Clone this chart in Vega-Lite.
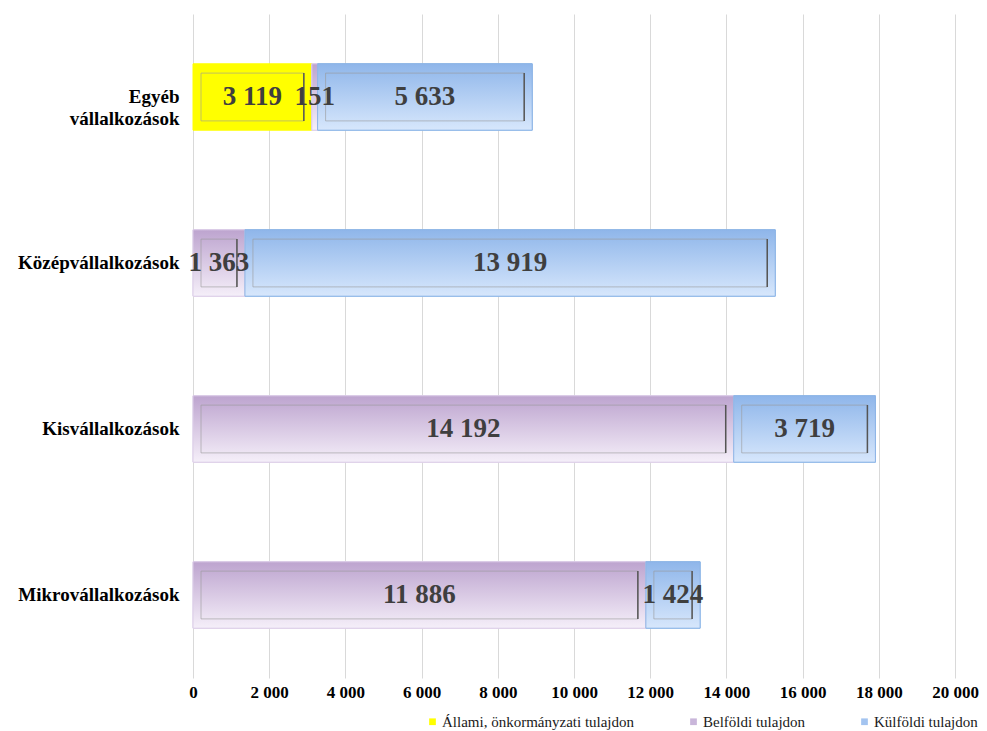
{
  "$schema": "https://vega.github.io/schema/vega-lite/v6.json",
  "width": 762,
  "height": 664,
  "autosize": {"type": "none"},
  "padding": {"left": 193, "top": 14, "right": 32, "bottom": 53},
  "background": "white",
  "config": {
    "view": {"stroke": null},
    "locale": {"number": {"decimal": ",", "thousands": " ", "grouping": [3], "currency": ["", ""]}}
  },
  "data": {
    "values": [
      {"cat": "Egyéb vállalkozások", "series": "Állami, önkormányzati tulajdon", "order": 1, "value": 3119},
      {"cat": "Egyéb vállalkozások", "series": "Belföldi tulajdon", "order": 2, "value": 151},
      {"cat": "Egyéb vállalkozások", "series": "Külföldi tulajdon", "order": 3, "value": 5633},
      {"cat": "Középvállalkozások", "series": "Belföldi tulajdon", "order": 2, "value": 1363},
      {"cat": "Középvállalkozások", "series": "Külföldi tulajdon", "order": 3, "value": 13919},
      {"cat": "Kisvállalkozások", "series": "Belföldi tulajdon", "order": 2, "value": 14192},
      {"cat": "Kisvállalkozások", "series": "Külföldi tulajdon", "order": 3, "value": 3719},
      {"cat": "Mikrovállalkozások", "series": "Belföldi tulajdon", "order": 2, "value": 11886},
      {"cat": "Mikrovállalkozások", "series": "Külföldi tulajdon", "order": 3, "value": 1424}
    ]
  },
  "transform": [
    {"stack": "value", "groupby": ["cat"], "sort": [{"field": "order"}], "as": ["v0", "v1"]},
    {"calculate": "(datum.v0 + datum.v1) / 2", "as": "mid"}
  ],
  "encoding": {
    "y": {
      "field": "cat",
      "type": "nominal",
      "sort": ["Egyéb vállalkozások", "Középvállalkozások", "Kisvállalkozások", "Mikrovállalkozások"],
      "scale": {"paddingInner": 0.6, "paddingOuter": 0.3},
      "axis": {
        "title": null,
        "domain": false,
        "ticks": false,
        "labelPadding": 14,
        "labelFont": "Liberation Serif",
        "labelFontWeight": "bold",
        "labelFontSize": 19,
        "labelLimit": 200,
        "labelColor": "#000000",
        "labelLineHeight": 22,
        "labelExpr": "datum.label == 'Egyéb vállalkozások' ? ['Egyéb', 'vállalkozások'] : datum.label"
      }
    }
  },
  "layer": [
    {
      "mark": {"type": "bar", "height": {"band": 1}, "strokeWidth": 1},
      "encoding": {
        "x": {
          "field": "v0",
          "type": "quantitative",
          "scale": {"domain": [0, 20000], "nice": false},
          "axis": {
            "title": null,
            "values": [0, 2000, 4000, 6000, 8000, 10000, 12000, 14000, 16000, 18000, 20000],
            "format": ",d",
            "grid": true,
            "gridColor": "#D9D9D9",
            "gridWidth": 1,
            "domain": false,
            "ticks": false,
            "labelPadding": 6,
            "labelFont": "Liberation Serif",
            "labelFontWeight": "bold",
            "labelFontSize": 17,
            "labelColor": "#000000",
            "labelFlush": false
          }
        },
        "x2": {"field": "v1"},
        "color": {
          "field": "series",
          "type": "nominal",
          "scale": {
            "domain": ["Állami, önkormányzati tulajdon", "Belföldi tulajdon", "Külföldi tulajdon"],
            "range": ["#FFFF00", "#C9B6DA", "#A3C4F0"]
          },
          "legend": {
            "title": null,
            "orient": "none",
            "direction": "horizontal",
            "legendX": 232,
            "legendY": 700,
            "symbolType": "square",
            "symbolSize": 45,
            "symbolStrokeWidth": 0,
            "labelFont": "Liberation Serif",
            "labelFontSize": 15,
            "labelLimit": 300,
            "labelColor": "#1a1a1a",
            "labelOffset": 2,
            "columnPadding": 51
          }
        },
        "stroke": {
          "field": "series",
          "type": "nominal",
          "scale": {
            "domain": ["Állami, önkormányzati tulajdon", "Belföldi tulajdon", "Külföldi tulajdon"],
            "range": ["#FFFF00", "#DCCEE8", "#8DB5E6"]
          },
          "legend": null
        }
      }
    },
    {
      "transform": [{"filter": "datum.series == 'Belföldi tulajdon'"}],
      "mark": {
        "type": "bar",
        "height": {"band": 1},
        "stroke": "#DCCEE8",
        "strokeWidth": 1,
        "color": {
          "gradient": "linear", "x1": 0, "y1": 0, "x2": 0, "y2": 1,
          "stops": [{"offset": 0, "color": "#BDA4CF"}, {"offset": 1, "color": "#F5EFF9"}]
        }
      },
      "encoding": {"x": {"field": "v0", "type": "quantitative"}, "x2": {"field": "v1"}}
    },
    {
      "transform": [{"filter": "datum.series == 'Külföldi tulajdon'"}],
      "mark": {
        "type": "bar",
        "height": {"band": 1},
        "stroke": "#8DB5E6",
        "strokeWidth": 1,
        "color": {
          "gradient": "linear", "x1": 0, "y1": 0, "x2": 0, "y2": 1,
          "stops": [{"offset": 0, "color": "#8FB6EA"}, {"offset": 1, "color": "#D7E7FC"}]
        }
      },
      "encoding": {"x": {"field": "v0", "type": "quantitative"}, "x2": {"field": "v1"}}
    },
    {
      "transform": [{"filter": "datum.value > 500"}],
      "mark": {
        "type": "bar",
        "height": {"band": 0.72},
        "xOffset": 8,
        "x2Offset": -8,
        "fillOpacity": 0,
        "stroke": "#9A9A9A",
        "strokeOpacity": 0.6,
        "strokeWidth": 1
      },
      "encoding": {"x": {"field": "v0", "type": "quantitative"}, "x2": {"field": "v1"}}
    },
    {
      "transform": [{"filter": "datum.value > 500"}],
      "mark": {
        "type": "tick",
        "orient": "vertical",
        "size": 48,
        "thickness": 1.5,
        "xOffset": -8,
        "color": "#555555",
        "opacity": 1
      },
      "encoding": {"x": {"field": "v1", "type": "quantitative"}}
    },
    {
      "mark": {
        "type": "text",
        "font": "Liberation Serif",
        "fontWeight": "bold",
        "fontSize": 27,
        "color": "#3F3F3F",
        "align": "center",
        "baseline": "middle"
      },
      "encoding": {
        "x": {"field": "mid", "type": "quantitative"},
        "text": {"field": "value", "type": "quantitative", "format": ",d"}
      }
    }
  ]
}
